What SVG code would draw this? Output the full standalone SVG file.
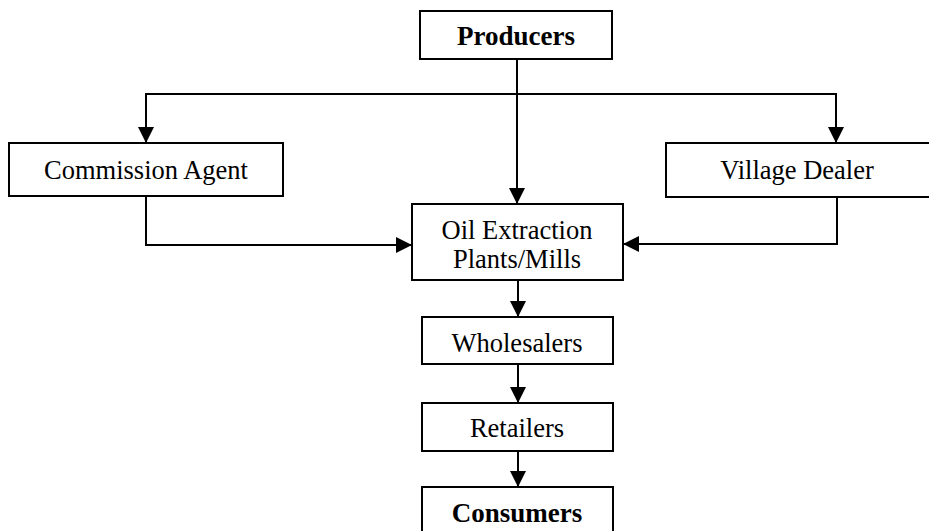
<svg xmlns="http://www.w3.org/2000/svg" width="929" height="531" viewBox="0 0 929 531">
<defs>
<marker id="arr" markerUnits="userSpaceOnUse" markerWidth="16" markerHeight="16" refX="16" refY="8" orient="auto">
<path d="M0,0 L16,8 L0,16 z" fill="#000"/>
</marker>
<style>
.box{fill:#fff;stroke:#000;stroke-width:2}
.t{font-family:"Liberation Serif","Times New Roman",serif;font-size:26.5px;fill:#000;text-anchor:middle}
.b{font-weight:bold;font-size:27px}
.c{fill:none;stroke:#000;stroke-width:2;marker-end:url(#arr)}
</style>
</defs>
<rect width="929" height="531" fill="#fff"/>
<g id="connectors">
<path class="c" d="M517,59 V204"/>
<path class="c" d="M517,94 H146 V143"/>
<path class="c" d="M517,94 H836 V143"/>
<path class="c" d="M146,196 V245 H412"/>
<path class="c" d="M837,197 V244 H623"/>
<path class="c" d="M518,280 V317"/>
<path class="c" d="M518,364 V403"/>
<path class="c" d="M518,451 V487"/>
</g>
<g id="producers">
<rect class="box" x="420" y="11" width="192" height="48"/>
<text class="t b" x="516" y="45">Producers</text>
</g>
<g id="commission-agent">
<rect class="box" x="9" y="143" width="274" height="53"/>
<text class="t" x="146" y="179">Commission Agent</text>
</g>
<g id="village-dealer">
<rect class="box" x="666" y="143" width="266" height="54"/>
<text class="t" x="797" y="179">Village Dealer</text>
</g>
<g id="oil-extraction">
<rect class="box" x="412" y="204" width="211" height="76"/>
<text class="t" x="517" y="239">Oil Extraction</text>
<text class="t" x="517" y="268">Plants/Mills</text>
</g>
<g id="wholesalers">
<rect class="box" x="422" y="317" width="191" height="47"/>
<text class="t" x="517" y="352">Wholesalers</text>
</g>
<g id="retailers">
<rect class="box" x="422" y="403" width="191" height="48"/>
<text class="t" x="517" y="437">Retailers</text>
</g>
<g id="consumers">
<rect class="box" x="422" y="487" width="191" height="60"/>
<text class="t b" x="517" y="522">Consumers</text>
</g>
</svg>
